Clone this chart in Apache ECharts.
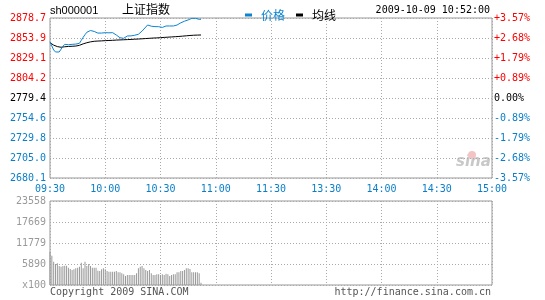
<!DOCTYPE html>
<html><head><meta charset="utf-8">
<script src="https://cdn.jsdelivr.net/npm/echarts@6/dist/echarts.min.js"></script>
<style>html,body{margin:0;padding:0;background:#fff}#c{width:545px;height:300px}</style>
</head><body><div id="c"></div>
<script>
// ---- data ----
const symbol = 'sh000001';
const indexName = '上证指数';
const stampText = '2009-10-09 10:52:00';
const prevClose = 2779.4;
const timeLabels = ['09:30','10:00','10:30','11:00','11:30','13:30','14:00','14:30','15:00'];
const priceLabels = ['2680.1','2705.0','2729.8','2754.6','2779.4','2804.2','2829.1','2853.9','2878.7'];
const pctLabels = ['-3.57%','-2.68%','-1.79%','-0.89%','0.00%','+0.89%','+1.79%','+2.68%','+3.57%'];
const volLabels = ['x100','5890','11779','17669','23558'];
const volMax = 23558;
const price = [2849.3,2844,2839,2836.5,2836,2836.5,2840,2843.5,2846,2846,2845.5,2846,2846,2846,2846.3,2846.5,2847.3,2851,2854.7,2858,
 2861,2863.4,2863.2,2863,2862,2860.5,2860,2859.7,2860,2860.5,2860.5,2860.5,2860.3,2860.5,2860.5,2859,2857.6,2856,2854.2,2854,
 2853.5,2853.5,2856.4,2856.5,2856.5,2857,2857.3,2857.6,2858.5,2859.7,2862.5,2865,2867.5,2870,2869.3,2868.5,2867.9,2868,2867.9,2867.9,
 2865.9,2867,2868,2868.8,2868.8,2868.8,2868.5,2868.8,2868.8,2870,2871.3,2872.7,2874.1,2874.7,2875.3,2876.3,2877.3,2878.3,2878.3,2878.3,
 2877.1,2877.1,2877.1];
const avgPrice = [2848,2846.5,2845,2844,2843.2,2842.5,2842.4,2842.6,2843,2843.2,2843.4,2843.5,2843.6,2843.7,2843.9,2844.2,2844.8,2845.7,2846.6,2847.3,
 2848,2848.6,2849.1,2849.5,2849.8,2850,2850.1,2850.2,2850.3,2850.4,2850.6,2850.7,2850.8,2850.9,2851,2851.1,2851.3,2851.4,2851.5,2851.6,
 2851.7,2851.8,2851.9,2852,2852.1,2852.3,2852.4,2852.5,2852.6,2852.8,2852.9,2853.1,2853.2,2853.4,2853.5,2853.6,2853.8,2853.9,2854,2854.2,
 2854.3,2854.5,2854.6,2854.8,2854.9,2855,2855.2,2855.3,2855.5,2855.6,2855.8,2856,2856.2,2856.4,2856.6,2856.8,2857,2857.2,2857.3,2857.4,
 2857.5,2857.6,2857.6];
const volume = [9340,8220,6540,5890,6080,5330,5140,5330,5420,5420,4860,4490,4210,4400,4680,4860,5140,6260,4680,6540,
 5330,5890,5330,4860,4860,4860,4020,3930,4400,4680,4400,3930,3740,3740,3740,3740,3930,3560,3560,3280,
 3000,2520,2800,2800,2800,2800,2800,3280,4680,5140,5330,4680,4210,3930,4210,3280,2800,2800,3000,3000,
 2800,3000,2800,3140,3000,2520,2800,3000,3000,3560,3560,3930,3930,4210,4680,4680,4490,3560,3560,3560,
 3560,3280,650];

// ---- build ----
const step = 24.825;            // price per grid row
const half = 4;                 // rows each side of previous close
const yMin = -half*step, yMax = half*step;
const priceData = price.map((v,i)=>[i, +(v-prevClose).toFixed(3)]);
const avgData = avgPrice.map((v,i)=>[i, +(v-prevClose).toFixed(3)]);
const volData = volume.map((v,i)=>[i, v]);
const idx = v => Math.round(v/step)+half;
const sideColor = (v) => { const k = idx(v); return k>half ? '#ff0000' : (k<half ? '#0a7fc8' : '#000'); };
const mono = 'DejaVu Sans Mono';
const gridLine = {show:true, lineStyle:{color:'#aaa', type:[1,2], width:1}};
const BLUE = '#0a84d0';

const chart = echarts.init(document.getElementById('c'), null, {renderer:'canvas'});
chart.setOption({
  animation:false,
  backgroundColor:'#fff',
  legend:{
    left:240, top:4, icon:'rect', itemWidth:7, itemHeight:3, itemGap:11,
    textStyle:{fontFamily:'Noto Sans CJK SC', fontSize:12, padding:[0,0,0,4]},
    data:[{name:'价格', textStyle:{color:BLUE}},{name:'均线', textStyle:{color:'#000'}}]
  },
  grid:[
    {left:50, right:53, top:18, height:160, show:true, borderColor:'#999', borderWidth:1},
    {left:50, right:53, top:201, height:84, show:true, borderColor:'#999', borderWidth:1}
  ],
  xAxis:[
    {type:'value', gridIndex:0, min:0, max:240, interval:30,
     axisLine:{show:false}, axisTick:{show:false}, splitLine:gridLine,
     axisLabel:{margin:6, fontFamily:mono, fontSize:10, color:'#0a7fc8', showMinLabel:true, showMaxLabel:true,
       formatter:v=>timeLabels[Math.round(v/30)]}},
    {type:'value', gridIndex:1, min:0, max:240, interval:30,
     axisLine:{show:false}, axisTick:{show:false}, splitLine:gridLine, axisLabel:{show:false}}
  ],
  yAxis:[
    {type:'value', gridIndex:0, min:yMin, max:yMax, interval:step,
     axisLine:{show:false}, axisTick:{show:false}, splitLine:gridLine,
     axisLabel:{margin:4, fontFamily:mono, fontSize:10, color:sideColor, showMinLabel:true, showMaxLabel:true,
       formatter:v=>priceLabels[idx(v)]}},
    {type:'value', gridIndex:0, position:'right', min:yMin, max:yMax, interval:step,
     axisLine:{show:false}, axisTick:{show:false}, splitLine:{show:false},
     axisLabel:{margin:2, fontFamily:mono, fontSize:10, color:sideColor, showMinLabel:true, showMaxLabel:true,
       formatter:v=>pctLabels[idx(v)]}},
    {type:'value', gridIndex:1, min:0, max:volMax, interval:volMax/4,
     axisLine:{show:false}, axisTick:{show:false}, splitLine:gridLine,
     axisLabel:{margin:4, fontFamily:mono, fontSize:10, color:'#999', showMinLabel:true, showMaxLabel:true,
       formatter:v=>volLabels[Math.round(v/(volMax/4))]}}
  ],
  series:[
    {name:'价格', type:'line', xAxisIndex:0, yAxisIndex:0, data:priceData, showSymbol:false,
     lineStyle:{color:BLUE, width:1}, itemStyle:{color:BLUE}, z:5},
    {name:'均线', type:'line', xAxisIndex:0, yAxisIndex:0, data:avgData, showSymbol:false,
     lineStyle:{color:'#000', width:1}, itemStyle:{color:'#000'}, z:4},
    {name:'成交量', type:'bar', xAxisIndex:1, yAxisIndex:2, data:volData, barWidth:1,
     itemStyle:{color:'#999'}}
  ],
  graphic:[
    {type:'text', left:50, top:5, style:{text:symbol, font:'11px "Liberation Sans"', fill:'#000'}},
    {type:'text', left:122, top:3, style:{text:indexName, font:'12px "Noto Sans CJK SC"', fill:'#000'}},
    {type:'text', right:55, top:5, style:{text:stampText, font:'10px "DejaVu Sans Mono"', fill:'#000'}},
    {type:'text', left:456, top:155, style:{text:'sina', font:'italic bold 15px "DejaVu Sans"', fill:'#c8c8c8'}},
    {type:'circle', shape:{cx:472, cy:155, r:4}, style:{fill:'#f3c4c4'}},
    {type:'text', left:50, top:287, style:{text:'Copyright 2009 SINA.COM', font:'10px "DejaVu Sans Mono"', fill:'#555'}},
    {type:'text', right:54, top:287, style:{text:'http://finance.sina.com.cn', font:'10px "DejaVu Sans Mono"', fill:'#555'}}
  ]
});
</script></body></html>
